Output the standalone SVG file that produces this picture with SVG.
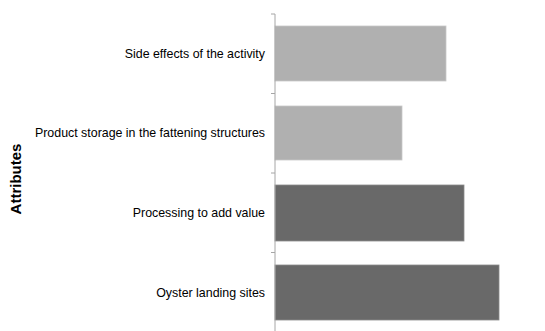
<svg xmlns="http://www.w3.org/2000/svg" width="545" height="331" viewBox="0 0 545 331">
  <style>
    .lbl { font-family: "Liberation Sans", Arial, sans-serif; font-size: 12.4px; fill: #000; text-anchor: end; }
    .title { font-family: "Liberation Sans", Arial, sans-serif; font-size: 15px; font-weight: bold; fill: #000; text-anchor: middle; }
    .light { fill: #b0b0b0; stroke: #c8c8c8; stroke-width: 0.8; }
    .dark { fill: #696969; stroke: #8a8a8a; stroke-width: 0.8; }
    .axis { stroke: #a6a6a6; stroke-width: 1; fill: none; }
  </style>
  <rect width="545" height="331" fill="#ffffff"/>

  <!-- bars -->
  <g id="bar-side-effects"><rect class="light" x="275" y="26" width="171" height="55"/></g>
  <g id="bar-storage"><rect class="light" x="275" y="106" width="127" height="54"/></g>
  <g id="bar-processing"><rect class="dark" x="275" y="185" width="189" height="56"/></g>
  <g id="bar-landing"><rect class="dark" x="275" y="265" width="224" height="55"/></g>

  <!-- category axis with tick marks -->
  <g id="axis">
    <line class="axis" x1="275" y1="14" x2="275" y2="331"/>
    <line class="axis" x1="271" y1="14" x2="275" y2="14"/>
    <line class="axis" x1="271" y1="93.5" x2="275" y2="93.5"/>
    <line class="axis" x1="271" y1="173" x2="275" y2="173"/>
    <line class="axis" x1="271" y1="252.5" x2="275" y2="252.5"/>
  </g>

  <!-- category labels -->
  <g id="labels">
    <text class="lbl" x="265" y="57.5">Side effects of the activity</text>
    <text class="lbl" x="265" y="137">Product storage in the fattening structures</text>
    <text class="lbl" x="265" y="217">Processing to add value</text>
    <text class="lbl" x="265" y="296.5">Oyster landing sites</text>
  </g>

  <!-- axis title -->
  <g id="axis-title">
    <text class="title" transform="translate(21,179) rotate(-90)">Attributes</text>
  </g>
</svg>
